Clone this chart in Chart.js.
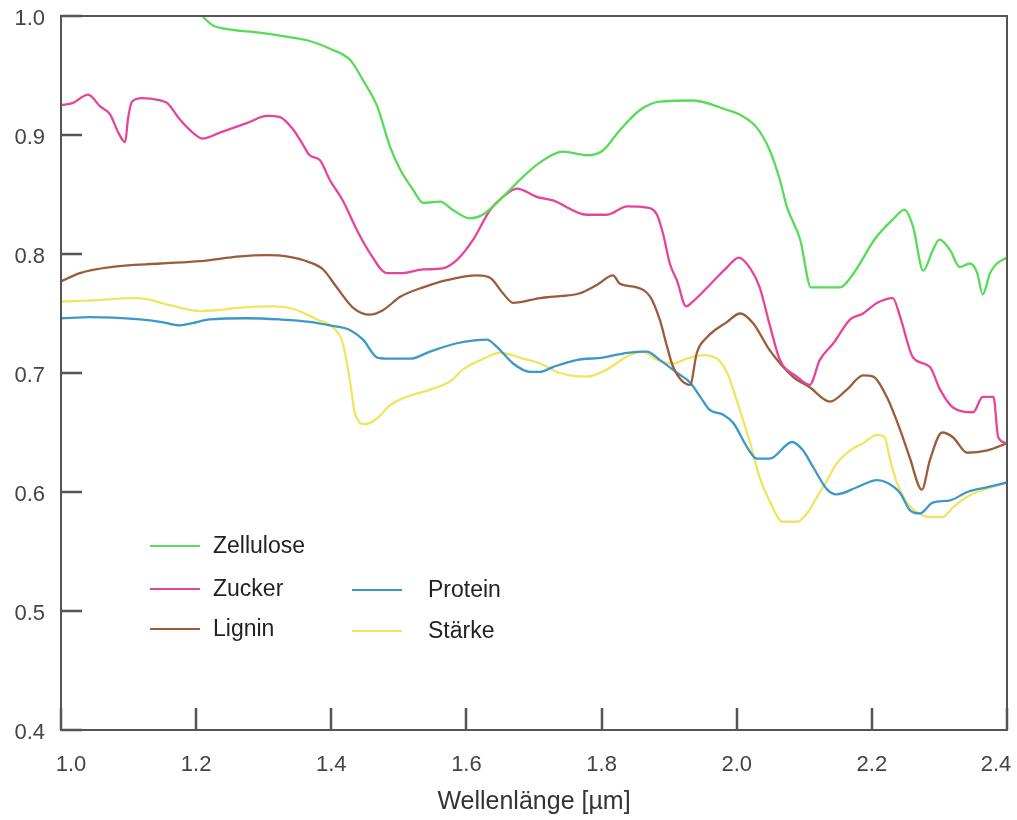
<!DOCTYPE html>
<html><head><meta charset="utf-8">
<script src="https://cdn.jsdelivr.net/npm/chart.js@4.4.1/dist/chart.umd.min.js"></script>
<style>html,body{margin:0;padding:0;background:#fff}#wrap{width:1017px;height:820px;position:relative}</style>
</head><body><div id="wrap"><canvas id="c" width="1017" height="820"></canvas></div>
<script>
// ---- Data ----
const xTicks = [1.0, 1.2, 1.4, 1.6, 1.8, 2.0, 2.2, 2.4];
const yTicks = [0.4, 0.5, 0.6, 0.7, 0.8, 0.9, 1.0];
const seriesNames = ['Zellulose', 'Zucker', 'Lignin', 'Protein', 'Stärke'];

const zelluloseX = [1.19, 1.209, 1.225, 1.246, 1.294, 1.34, 1.368, 1.40, 1.428, 1.447, 1.468, 1.487, 1.502, 1.521, 1.536, 1.561, 1.58, 1.605, 1.624, 1.654, 1.684, 1.709, 1.743, 1.778, 1.802, 1.827, 1.857, 1.886, 1.935, 1.986, 2.005, 2.03, 2.049, 2.064, 2.074, 2.094, 2.11, 2.153, 2.172, 2.205, 2.231, 2.248, 2.261, 2.276, 2.29, 2.30, 2.316, 2.33, 2.345, 2.356, 2.364, 2.375, 2.385, 2.40];
const zelluloseY = [1.012, 1.0, 0.992, 0.989, 0.986, 0.982, 0.979, 0.972, 0.963, 0.946, 0.924, 0.890, 0.871, 0.854, 0.843, 0.844, 0.837, 0.830, 0.833, 0.848, 0.865, 0.877, 0.886, 0.883, 0.887, 0.904, 0.921, 0.928, 0.929, 0.921, 0.917, 0.906, 0.887, 0.862, 0.840, 0.812, 0.772, 0.772, 0.783, 0.813, 0.829, 0.837, 0.823, 0.786, 0.803, 0.812, 0.803, 0.789, 0.792, 0.784, 0.766, 0.784, 0.792, 0.797];

const zuckerX = [1.0, 1.018, 1.04, 1.058, 1.073, 1.084, 1.095, 1.099, 1.105, 1.12, 1.147, 1.157, 1.176, 1.195, 1.21, 1.235, 1.275, 1.305, 1.324, 1.343, 1.358, 1.368, 1.383, 1.398, 1.417, 1.438, 1.457, 1.482, 1.506, 1.536, 1.565, 1.586, 1.61, 1.635, 1.654, 1.675, 1.704, 1.728, 1.778, 1.808, 1.838, 1.867, 1.882, 1.891, 1.901, 1.912, 1.925, 1.935, 1.96, 1.986, 2.003, 2.02, 2.034, 2.049, 2.064, 2.089, 2.108, 2.123, 2.143, 2.168, 2.187, 2.208, 2.231, 2.242, 2.261, 2.286, 2.301, 2.32, 2.35, 2.364, 2.38, 2.387, 2.40];
const zuckerY = [0.925, 0.927, 0.934, 0.924, 0.917, 0.903, 0.894, 0.913, 0.928, 0.931, 0.929, 0.927, 0.913, 0.902, 0.897, 0.902, 0.910, 0.916, 0.915, 0.905, 0.892, 0.883, 0.879, 0.862, 0.845, 0.820, 0.801, 0.784, 0.784, 0.787, 0.788, 0.795, 0.812, 0.837, 0.848, 0.855, 0.848, 0.845, 0.833, 0.833, 0.840, 0.839, 0.833, 0.817, 0.792, 0.777, 0.756, 0.760, 0.774, 0.789, 0.797, 0.788, 0.772, 0.740, 0.711, 0.697, 0.690, 0.711, 0.725, 0.745, 0.750, 0.759, 0.763, 0.747, 0.713, 0.705, 0.686, 0.671, 0.667, 0.680, 0.680, 0.646, 0.641];

const ligninX = [1.0, 1.028, 1.073, 1.147, 1.206, 1.265, 1.305, 1.334, 1.368, 1.388, 1.408, 1.432, 1.457, 1.477, 1.502, 1.536, 1.571, 1.616, 1.635, 1.654, 1.669, 1.709, 1.724, 1.768, 1.793, 1.817, 1.827, 1.852, 1.872, 1.886, 1.897, 1.906, 1.931, 1.941, 1.956, 1.986, 2.005, 2.024, 2.049, 2.083, 2.108, 2.138, 2.163, 2.187, 2.202, 2.222, 2.242, 2.256, 2.274, 2.286, 2.304, 2.32, 2.341, 2.371, 2.40];
const ligninY = [0.777, 0.784, 0.789, 0.792, 0.794, 0.798, 0.799, 0.798, 0.793, 0.787, 0.772, 0.755, 0.749, 0.753, 0.764, 0.772, 0.778, 0.782, 0.780, 0.767, 0.759, 0.763, 0.764, 0.767, 0.774, 0.782, 0.775, 0.772, 0.764, 0.745, 0.722, 0.705, 0.690, 0.717, 0.730, 0.743, 0.750, 0.742, 0.719, 0.697, 0.688, 0.676, 0.686, 0.698, 0.697, 0.680, 0.652, 0.629, 0.602, 0.627, 0.650, 0.646, 0.633, 0.635, 0.641];

const proteinX = [1.0, 1.043, 1.117, 1.147, 1.176, 1.195, 1.22, 1.275, 1.324, 1.368, 1.398, 1.428, 1.447, 1.468, 1.487, 1.517, 1.546, 1.586, 1.63, 1.645, 1.669, 1.694, 1.709, 1.728, 1.764, 1.802, 1.838, 1.867, 1.886, 1.912, 1.931, 1.946, 1.96, 1.98, 1.995, 2.015, 2.03, 2.049, 2.082, 2.098, 2.113, 2.134, 2.148, 2.178, 2.208, 2.222, 2.242, 2.256, 2.271, 2.29, 2.316, 2.341, 2.371, 2.40];
const proteinY = [0.746, 0.747, 0.745, 0.743, 0.740, 0.742, 0.745, 0.746, 0.745, 0.743, 0.740, 0.736, 0.728, 0.713, 0.712, 0.712, 0.718, 0.725, 0.728, 0.722, 0.708, 0.701, 0.701, 0.705, 0.711, 0.713, 0.717, 0.718, 0.711, 0.700, 0.692, 0.680, 0.669, 0.665, 0.658, 0.638, 0.628, 0.628, 0.642, 0.635, 0.621, 0.602, 0.598, 0.604, 0.610, 0.608, 0.599, 0.585, 0.582, 0.591, 0.593, 0.600, 0.604, 0.608];

const staerkeX = [1.0, 1.047, 1.107, 1.127, 1.161, 1.206, 1.235, 1.265, 1.314, 1.343, 1.368, 1.379, 1.403, 1.417, 1.428, 1.435, 1.45, 1.468, 1.487, 1.512, 1.546, 1.576, 1.595, 1.625, 1.65, 1.684, 1.709, 1.738, 1.778, 1.808, 1.838, 1.861, 1.882, 1.906, 1.926, 1.95, 1.971, 1.986, 2.0, 2.02, 2.034, 2.049, 2.068, 2.089, 2.104, 2.119, 2.134, 2.148, 2.168, 2.187, 2.208, 2.219, 2.227, 2.237, 2.252, 2.267, 2.286, 2.305, 2.32, 2.341, 2.371, 2.40];
const staerkeY = [0.760, 0.761, 0.763, 0.762, 0.757, 0.752, 0.753, 0.755, 0.756, 0.754, 0.748, 0.745, 0.738, 0.725, 0.692, 0.666, 0.657, 0.662, 0.673, 0.680, 0.686, 0.693, 0.703, 0.712, 0.717, 0.712, 0.708, 0.700, 0.697, 0.703, 0.714, 0.718, 0.711, 0.708, 0.712, 0.715, 0.712, 0.700, 0.677, 0.641, 0.612, 0.592, 0.575, 0.575, 0.582, 0.596, 0.610, 0.624, 0.635, 0.641, 0.648, 0.646, 0.627, 0.608, 0.591, 0.583, 0.579, 0.579, 0.587, 0.596, 0.603, 0.608];

// ---- Styles ----
const FONT = '"Liberation Sans", Arial, Helvetica, sans-serif';
const colors = ['#56dc56', '#e6449c', '#9c5c3c', '#3c98c8', '#f2e462'];

function pts(xs, ys) { return xs.map((x, i) => ({ x: x, y: ys[i] })); }
const allX = [zelluloseX, zuckerX, ligninX, proteinX, staerkeX];
const allY = [zelluloseY, zuckerY, ligninY, proteinY, staerkeY];

const datasets = seriesNames.map((name, i) => ({
  label: name,
  data: pts(allX[i], allY[i]),
  borderColor: colors[i],
  backgroundColor: colors[i],
  borderWidth: 2.3,
  pointRadius: 0,
  fill: false,
  cubicInterpolationMode: 'monotone',
  tension: 0.4
}));

const legendPos = [
  { x: 150, y: 546 }, { x: 150, y: 589 }, { x: 150, y: 629 },
  { x: 352, y: 590 }, { x: 352, y: 631 }
];

const framePlugin = {
  id: 'frame',
  afterDraw(chart) {
    const ctx = chart.ctx;
    const a = chart.chartArea;
    const xs = chart.scales.x, ys = chart.scales.y;
    ctx.save();
    ctx.strokeStyle = '#555';
    ctx.lineWidth = 2;
    ctx.strokeRect(a.left, a.top, a.right - a.left, a.bottom - a.top);
    ctx.lineWidth = 2.5;
    ctx.beginPath();
    yTicks.forEach(v => {
      const y = Math.round(ys.getPixelForValue(v));
      ctx.moveTo(a.left, y); ctx.lineTo(a.left + 21, y);
    });
    xTicks.forEach(v => {
      const x = Math.round(xs.getPixelForValue(v));
      ctx.moveTo(x, a.bottom); ctx.lineTo(x, a.bottom - 22);
    });
    ctx.stroke();
    // x tick labels
    ctx.fillStyle = '#444';
    ctx.font = '22px ' + FONT;
    ctx.textAlign = 'center';
    ctx.textBaseline = 'top';
    xTicks.forEach((v, i) => {
      let x = xs.getPixelForValue(v);
      if (i === 0) x += 10;
      if (i === xTicks.length - 1) x -= 11;
      ctx.fillText(v.toFixed(1), x, a.bottom + 24);
    });
    // legend
    ctx.font = '23px ' + FONT;
    ctx.textAlign = 'left';
    ctx.textBaseline = 'middle';
    chart.data.datasets.forEach((ds, i) => {
      const p = legendPos[i];
      ctx.strokeStyle = ds.borderColor;
      ctx.lineWidth = 2;
      ctx.beginPath();
      ctx.moveTo(p.x, p.y); ctx.lineTo(p.x + 50, p.y);
      ctx.stroke();
      ctx.fillStyle = '#222';
      ctx.fillText(ds.label, p.x + (i < 3 ? 63 : 76), p.y + 1);
    });
    ctx.restore();
  }
};

new Chart(document.getElementById('c'), {
  type: 'line',
  data: { datasets: datasets },
  options: {
    responsive: false,
    devicePixelRatio: 1,
    animation: false,
    layout: { padding: { left: 0, top: 16, right: 10, bottom: 0 } },
    plugins: { legend: { display: false }, tooltip: { enabled: false } },
    scales: {
      x: {
        type: 'linear', min: 1.0, max: 2.4,
        grid: { display: false }, border: { display: false },
        ticks: { display: false },
        afterBuildTicks: s => { s.ticks = xTicks.map(v => ({ value: v })); },
        afterFit: s => { s.height = 90; s.paddingLeft = 0; s.paddingRight = 0; },
        title: { display: true, text: 'Wellenlänge [µm]', color: '#333',
                 font: { size: 25, family: FONT }, padding: { top: 0, bottom: 3 } }
      },
      y: {
        type: 'linear', min: 0.4, max: 1.0,
        grid: { display: false, drawTicks: false }, border: { display: false },
        afterBuildTicks: s => { s.ticks = yTicks.map(v => ({ value: v })); },
        afterFit: s => { s.width = 61; s.paddingTop = 0; s.paddingBottom = 0; },
        ticks: { color: '#444', font: { size: 22, family: FONT }, padding: 16, labelOffset: 3,
                 callback: v => Number(v).toFixed(1) }
      }
    }
  },
  plugins: [framePlugin]
});
</script></body></html>
